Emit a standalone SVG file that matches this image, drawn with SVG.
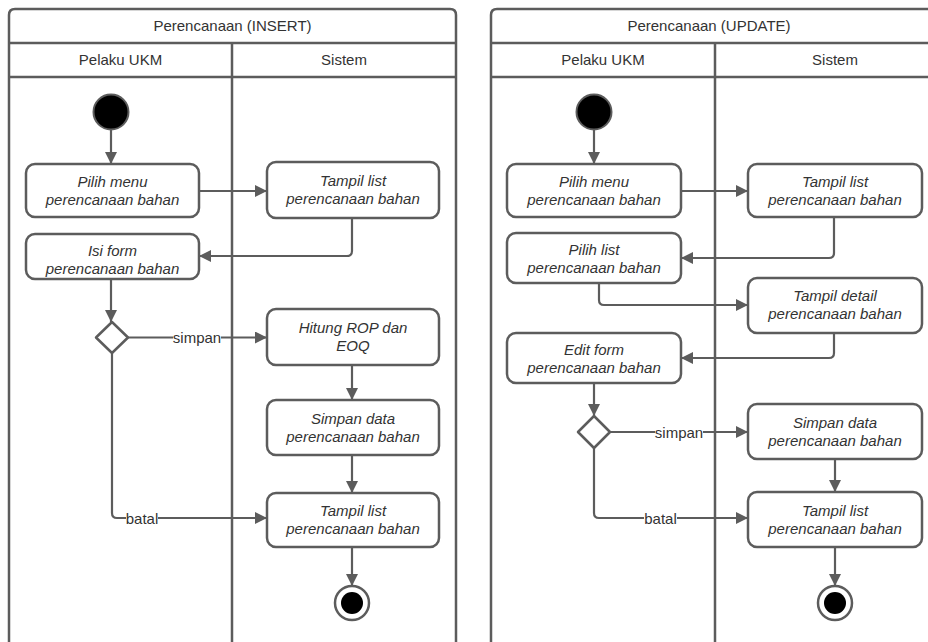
<svg xmlns="http://www.w3.org/2000/svg" width="928" height="642" viewBox="0 0 928 642">
  <style>
    .pool { fill: #ffffff; stroke: #5c5c5c; stroke-width: 2.5; }
    .sep { stroke: #5c5c5c; stroke-width: 2.5; fill: none; }
    .hdr { font-family: "Liberation Sans", Arial, sans-serif; font-size: 15px; fill: #333333; text-anchor: middle; }
    .act rect { fill: #ffffff; stroke: #5c5c5c; stroke-width: 2.5; }
    .act text { font-family: "Liberation Sans", Arial, sans-serif; font-size: 15px; font-style: italic; fill: #333333; text-anchor: middle; }
    .dec path { fill: #ffffff; stroke: #5c5c5c; stroke-width: 2.5; stroke-linejoin: round; }
    .flow { fill: none; stroke: #5c5c5c; stroke-width: 2.2; marker-end: url(#arrow); }
    .plain { fill: none; stroke: #5c5c5c; stroke-width: 2.2; }
    .lbl { font-family: "Liberation Sans", Arial, sans-serif; font-size: 15px; fill: #333333; text-anchor: middle; }
    .lblbg { fill: #ffffff; }
  </style>
  <defs>
    <marker id="arrow" viewBox="0 0 12 12" refX="12" refY="6" markerWidth="12" markerHeight="12" markerUnits="userSpaceOnUse" orient="auto">
      <path d="M0,0 L12,6 L0,12 Z" fill="#5c5c5c"/>
    </marker>
  </defs>
  <rect width="928" height="642" fill="#ffffff"/>

  <!-- Pool: INSERT -->
  <g id="pool-insert">
    <path class="pool" d="M9,650 L9,15 Q9,9 15,9 L450,9 Q456,9 456,15 L456,650"/>
    <line class="sep" x1="9" y1="43" x2="456" y2="43"/>
    <line class="sep" x1="9" y1="77" x2="456" y2="77"/>
    <line class="sep" x1="232" y1="43" x2="232" y2="650"/>
    <text class="hdr" x="232.5" y="31">Perencanaan (INSERT)</text>
    <text class="hdr" x="120.5" y="65">Pelaku UKM</text>
    <text class="hdr" x="344" y="65">Sistem</text>
  </g>

  <!-- Pool: UPDATE -->
  <g id="pool-update">
    <path class="pool" d="M491,650 L491,15 Q491,9 497,9 L940,9"/>
    <line class="sep" x1="491" y1="43" x2="940" y2="43"/>
    <line class="sep" x1="491" y1="77" x2="940" y2="77"/>
    <line class="sep" x1="715" y1="43" x2="715" y2="650"/>
    <text class="hdr" x="709" y="31">Perencanaan (UPDATE)</text>
    <text class="hdr" x="603" y="65">Pelaku UKM</text>
    <text class="hdr" x="835" y="65">Sistem</text>
  </g>

  <!-- INSERT nodes -->
  <g id="i-start"><circle cx="111" cy="112" r="17.5" fill="#000000" stroke="#5c5c5c" stroke-width="2"/></g>
  <g id="i-pilih-menu" class="act">
    <rect x="26" y="164" width="173" height="53" rx="9"/>
    <text x="112.5" y="187">Pilih menu</text>
    <text x="112.5" y="205">perencanaan bahan</text>
  </g>
  <g id="i-tampil-list" class="act">
    <rect x="267" y="162" width="172" height="56" rx="9"/>
    <text x="353" y="186">Tampil list</text>
    <text x="353" y="204">perencanaan bahan</text>
  </g>
  <g id="i-isi-form" class="act">
    <rect x="26" y="234" width="173" height="45" rx="9"/>
    <text x="112.5" y="256">Isi form</text>
    <text x="112.5" y="274">perencanaan bahan</text>
  </g>
  <g id="i-decision" class="dec"><path d="M112,322 L128,337.5 L112,353 L96,337.5 Z"/></g>
  <g id="i-hitung" class="act">
    <rect x="267" y="309" width="172" height="56" rx="9"/>
    <text x="353" y="333">Hitung ROP dan</text>
    <text x="353" y="351">EOQ</text>
  </g>
  <g id="i-simpan" class="act">
    <rect x="267" y="400" width="172" height="55" rx="9"/>
    <text x="353" y="424">Simpan data</text>
    <text x="353" y="442">perencanaan bahan</text>
  </g>
  <g id="i-tampil-list-2" class="act">
    <rect x="267" y="493" width="172" height="54" rx="9"/>
    <text x="353" y="516">Tampil list</text>
    <text x="353" y="534">perencanaan bahan</text>
  </g>
  <g id="i-end">
    <circle cx="352" cy="603" r="17" fill="#ffffff" stroke="#5c5c5c" stroke-width="2.5"/>
    <circle cx="352" cy="603" r="11" fill="#000000"/>
  </g>

  <!-- UPDATE nodes -->
  <g id="u-start"><circle cx="594" cy="112" r="17.5" fill="#000000" stroke="#5c5c5c" stroke-width="2"/></g>
  <g id="u-pilih-menu" class="act">
    <rect x="507" y="164" width="174" height="53" rx="9"/>
    <text x="594" y="187">Pilih menu</text>
    <text x="594" y="205">perencanaan bahan</text>
  </g>
  <g id="u-tampil-list" class="act">
    <rect x="748" y="164" width="174" height="53" rx="9"/>
    <text x="835" y="187">Tampil list</text>
    <text x="835" y="205">perencanaan bahan</text>
  </g>
  <g id="u-pilih-list" class="act">
    <rect x="507" y="233" width="174" height="50" rx="9"/>
    <text x="594" y="255">Pilih list</text>
    <text x="594" y="273">perencanaan bahan</text>
  </g>
  <g id="u-tampil-detail" class="act">
    <rect x="748" y="278" width="174" height="55" rx="9"/>
    <text x="835" y="301">Tampil detail</text>
    <text x="835" y="319">perencanaan bahan</text>
  </g>
  <g id="u-edit-form" class="act">
    <rect x="507" y="333" width="174" height="50" rx="9"/>
    <text x="594" y="355">Edit form</text>
    <text x="594" y="373">perencanaan bahan</text>
  </g>
  <g id="u-decision" class="dec"><path d="M594,416 L610,432 L594,448 L578,432 Z"/></g>
  <g id="u-simpan" class="act">
    <rect x="748" y="404" width="174" height="55" rx="9"/>
    <text x="835" y="428">Simpan data</text>
    <text x="835" y="446">perencanaan bahan</text>
  </g>
  <g id="u-tampil-list-2" class="act">
    <rect x="748" y="492" width="174" height="55" rx="9"/>
    <text x="835" y="516">Tampil list</text>
    <text x="835" y="534">perencanaan bahan</text>
  </g>
  <g id="u-end">
    <circle cx="835" cy="603" r="17" fill="#ffffff" stroke="#5c5c5c" stroke-width="2.5"/>
    <circle cx="835" cy="603" r="11" fill="#000000"/>
  </g>

  <!-- Connectors -->
  <g id="connectors">
    <!-- INSERT flows -->
    <path class="flow" d="M111,130 L111,164"/>
    <path class="flow" d="M199,191 L267,191"/>
    <path class="flow" d="M352,218 L352,251 Q352,256 347,256 L199,256"/>
    <path class="flow" d="M111,279 L111,322"/>
    <path class="flow" d="M128,337.5 L267,337.5"/>
    <path class="flow" d="M352,365 L352,400"/>
    <path class="flow" d="M352,455 L352,493"/>
    <path class="plain" d="M112,353 L112,513 Q112,518 117,518 L150,518"/>
    <path class="flow" d="M150,518 L267,518"/>
    <path class="flow" d="M352,547 L352,586"/>

    <!-- UPDATE flows -->
    <path class="flow" d="M594,130 L594,164"/>
    <path class="flow" d="M681,191 L748,191"/>
    <path class="flow" d="M834,217 L834,253 Q834,258 829,258 L681,258"/>
    <path class="flow" d="M599,283 L599,300 Q599,305 604,305 L748,305"/>
    <path class="flow" d="M834,333 L834,353 Q834,358 829,358 L681,358"/>
    <path class="flow" d="M594,383 L594,416"/>
    <path class="flow" d="M610,432 L748,432"/>
    <path class="flow" d="M835,459 L835,492"/>
    <path class="plain" d="M594,448 L594,513 Q594,518 599,518 L640,518"/>
    <path class="flow" d="M640,518 L748,518"/>
    <path class="flow" d="M835,547 L835,586"/>

    <!-- Guard labels -->
    <rect class="lblbg" x="173" y="328" width="48" height="18"/>
    <text class="lbl" x="197" y="343">simpan</text>
    <rect class="lblbg" x="126" y="509" width="32" height="18"/>
    <text class="lbl" x="142" y="524">batal</text>
    <rect class="lblbg" x="655" y="423" width="48" height="18"/>
    <text class="lbl" x="679" y="438">simpan</text>
    <rect class="lblbg" x="644" y="509" width="33" height="18"/>
    <text class="lbl" x="660.5" y="524">batal</text>
  </g>
</svg>
